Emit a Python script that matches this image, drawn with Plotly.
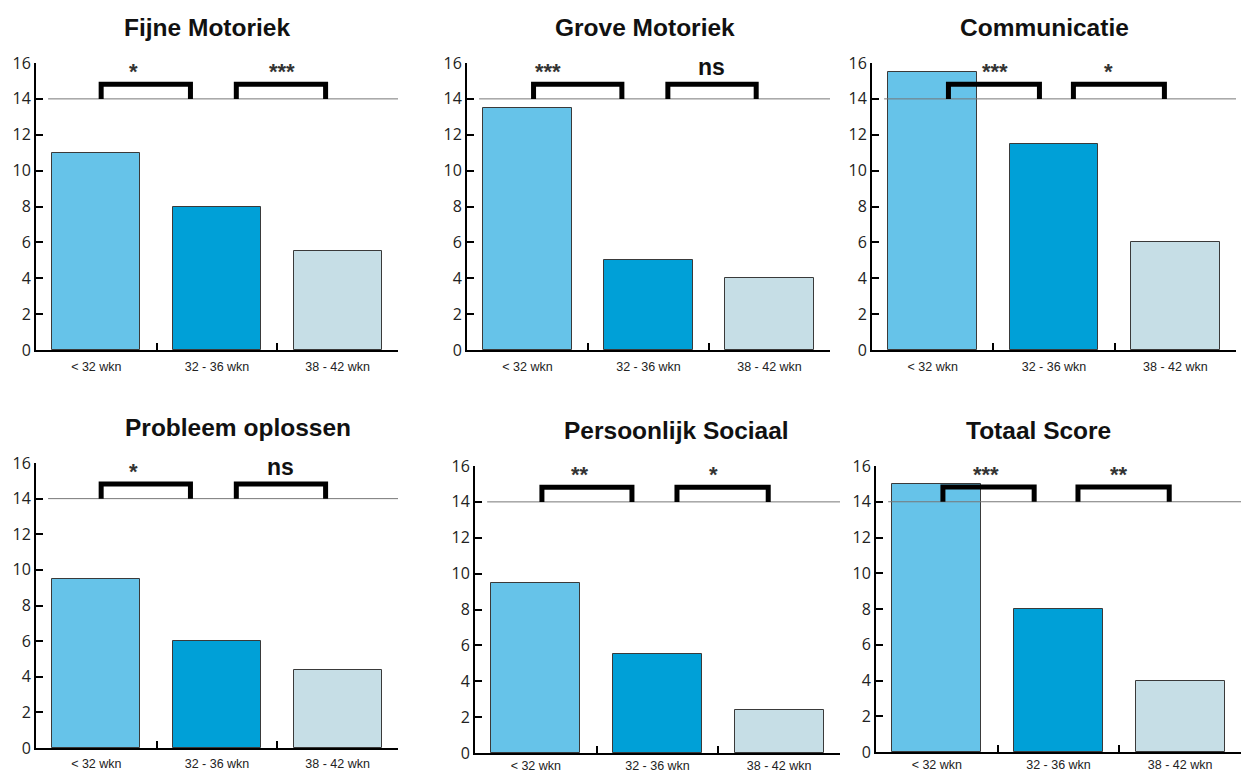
import plotly.graph_objects as go

# ---------------- data ----------------
panels = ["Fijne Motoriek", "Grove Motoriek", "Communicatie",
          "Probleem oplossen", "Persoonlijk Sociaal", "Totaal Score"]
categories = ["< 32 wkn", "32 - 36 wkn", "38 - 42 wkn"]
scores_lt32 = [11, 13.5, 15.5, 9.5, 9.5, 15]
scores_32_36 = [8, 5, 11.5, 6, 5.5, 8]
scores_38_42 = [5.5, 4, 6, 4.4, 2.4, 4]
sig_left = ["*", "***", "***", "*", "**", "***"]
sig_right = ["***", "ns", "*", "ns", "*", "**"]
reference_line = 14
y_ticks = [0, 2, 4, 6, 8, 10, 12, 14, 16]

# ---------------- layout helpers ----------------
W, H = 1244, 774
# plot-area pixel boxes: (left, right, top(y=16), bottom(y=0))
boxes = [(36, 398, 63, 350), (467, 830, 63, 350), (872, 1236, 63, 350),
         (36, 398, 463, 748), (475, 840, 466, 753), (876, 1241, 466, 752)]
label_standoff = [4, 4, 4, 3, 0, 0]
title_px = [(207, 28), (645, 28), (1044, 28), (238, 428), (677, 431), (1038, 431)]
bracket_left = [(0.04, 0.78), (0.05, 0.78), (0.13, 0.88),
                (0.04, 0.78), (0.05, 0.79), (0.05, 0.80)]
bracket_right = [(1.16, 1.90), (1.16, 1.89), (1.16, 1.91),
                 (1.16, 1.90), (1.16, 1.91), (1.16, 1.91)]
star_left_x = [0.31, 0.17, 0.51, 0.31, 0.36, 0.40]
star_right_x = [1.54, 1.52, 1.45, 1.53, 1.46, 1.50]

colors = ["#66C3E9", "#00A0D7", "#C6DEE6"]

fig = go.Figure()
layout = dict(width=W, height=H, margin=dict(l=0, r=0, t=0, b=0),
              paper_bgcolor="white", plot_bgcolor="white",
              showlegend=False, bargap=0)
shapes = []
annotations = []

for i, name in enumerate(panels):
    n = "" if i == 0 else str(i + 1)
    xa, ya = "x" + n, "y" + n
    l, r, t, b = boxes[i]
    vals = [scores_lt32[i], scores_32_36[i], scores_38_42[i]]
    fig.add_trace(go.Bar(
        x=categories, y=vals, width=0.73,
        marker=dict(color=colors, line=dict(color="#3a3a3a", width=1)),
        xaxis=xa, yaxis=ya, hoverinfo="x+y"))
    layout["xaxis" + n] = dict(
        domain=[l / W, r / W], anchor=ya, type="category", automargin=False,
        range=[-0.5, 2.5], tickson="boundaries", ticks="inside",
        ticklen=7, tickwidth=2, tickcolor="black",
        ticklabelstandoff=label_standoff[i],
        showline=True, linewidth=2, linecolor="black",
        showgrid=False, zeroline=False, fixedrange=True,
        tickfont=dict(family="Liberation Sans, Arial", size=12.5, color="#222"))
    layout["yaxis" + n] = dict(
        domain=[1 - b / H, 1 - t / H], anchor=xa, automargin=False,
        range=[0, 16], tickvals=y_ticks, ticks="inside",
        ticklen=7, tickwidth=2, tickcolor="black",
        showline=True, linewidth=2, linecolor="black",
        showgrid=False, zeroline=False, fixedrange=True,
        tickfont=dict(family="Open Sans, Liberation Sans", size=16, color="#222"))
    # reference line at 14
    shapes.append(dict(type="line", xref=xa, yref=ya, x0=-0.4, x1=2.5,
                       y0=reference_line, y1=reference_line,
                       line=dict(color="#777777", width=1)))
    # significance brackets
    for (x0, x1) in (bracket_left[i], bracket_right[i]):
        shapes.append(dict(
            type="path", xref=xa, yref=ya,
            path=f"M {x0},{reference_line} L {x0},14.82 L {x1},14.82 L {x1},{reference_line}",
            line=dict(color="black", width=5)))
    for sx, s in ((star_left_x[i], sig_left[i]), (star_right_x[i], sig_right[i])):
        if s == "ns":
            annotations.append(dict(x=sx, y=15.8, xref=xa, yref=ya, text="<b>ns</b>",
                                    showarrow=False, yanchor="middle",
                                    font=dict(family="Liberation Sans, Arial", size=23, color="#111")))
        else:
            annotations.append(dict(x=sx, y=15.55, xref=xa, yref=ya, text="<b>" + s + "</b>",
                                    showarrow=False, yanchor="middle",
                                    font=dict(family="Liberation Sans, Arial", size=22, color="#333")))
    # panel title
    tx, ty = title_px[i]
    annotations.append(dict(x=tx / W, y=1 - ty / H, xref="paper", yref="paper",
                            text="<b>" + name + "</b>", showarrow=False,
                            xanchor="center", yanchor="middle",
                            font=dict(family="Liberation Sans, Arial", size=24.5, color="#111")))

layout["shapes"] = shapes
layout["annotations"] = annotations
fig.update_layout(**layout)
fig.write_html(
    "out.html", config={"displayModeBar": False},
    post_script="document.body.style.margin='0px';"
                "document.documentElement.style.overflow='hidden';"
                "document.body.style.overflow='hidden';")
